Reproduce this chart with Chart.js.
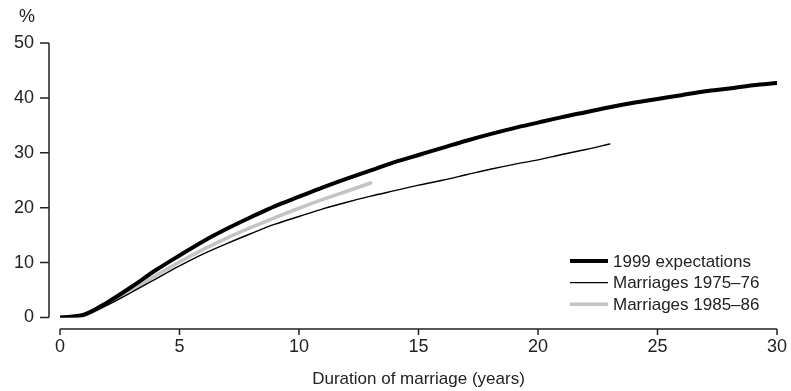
<!DOCTYPE html>
<html>
<head>
<meta charset="utf-8">
<script src="https://cdn.jsdelivr.net/npm/chart.js@4"></script>
<style>
  html, body { margin: 0; padding: 0; background: #fff; }
  #wrap { width: 791px; height: 391px; }
</style>
</head>
<body>
<div id="wrap"><canvas id="myChart" width="791" height="391"></canvas></div>
<script>
// data
const years = [0, 1, 2, 3, 4, 5, 6, 7, 8, 9, 10, 11, 12, 13, 14, 15, 16, 17, 18, 19, 20,
  21, 22, 23, 24, 25, 26, 27, 28, 29, 30];
const expect1999 = [0, 0.5, 2.8, 5.6, 8.6, 11.3, 13.9, 16.2, 18.3, 20.3, 22.0, 23.7, 25.3, 26.8,
  28.3, 29.6, 30.9, 32.2, 33.4, 34.5, 35.5, 36.5, 37.4, 38.3, 39.1, 39.8, 40.5, 41.2, 41.7, 42.3, 42.7];
const marr7576 = [0, 0.4, 2.3, 4.6, 7.0, 9.4, 11.6, 13.5, 15.3, 17.0, 18.4, 19.8, 21.0, 22.1,
  23.1, 24.1, 25.0, 26.0, 27.0, 27.9, 28.7, 29.7, 30.6, 31.6];
const marr8586 = [0, 0.4, 2.5, 5.0, 7.6, 10.1, 12.4, 14.5, 16.4, 18.2, 19.9, 21.5, 23.0, 24.5];
const seriesLabels = ["1999 expectations", "Marriages 1975\u201376", "Marriages 1985\u201386"];
const xTicks = [0, 5, 10, 15, 20, 25, 30];
const yTicks = [0, 10, 20, 30, 40, 50];

const FONT = "'Liberation Sans', Arial, sans-serif";

function toPoints(vals) {
  return vals.map((v, i) => ({ x: years[i], y: v }));
}

// axis lines sit a little away from the plot, like the original
const axisLines = {
  id: 'axisLines',
  afterDraw(chart) {
    const { ctx, scales: { x, y } } = chart;
    const yx = x.getPixelForValue(0) - 11;
    const xy = y.getPixelForValue(0) + 11.5;
    ctx.save();
    ctx.strokeStyle = '#222';
    ctx.lineWidth = 1.5;
    ctx.beginPath();
    ctx.moveTo(yx, y.getPixelForValue(50));
    ctx.lineTo(yx, y.getPixelForValue(0));
    yTicks.forEach(t => {
      const p = y.getPixelForValue(t);
      ctx.moveTo(yx, p);
      ctx.lineTo(yx - 9, p);
    });
    ctx.moveTo(x.getPixelForValue(0), xy);
    ctx.lineTo(x.getPixelForValue(30), xy);
    xTicks.forEach(t => {
      const p = x.getPixelForValue(t);
      ctx.moveTo(p, xy);
      ctx.lineTo(p, xy + 6);
    });
    ctx.stroke();

    // unit label
    ctx.fillStyle = '#222';
    ctx.font = '18px ' + FONT;
    ctx.textAlign = 'center';
    ctx.textBaseline = 'middle';
    ctx.fillText('%', 27, 17);

    // legend
    ctx.font = '17px ' + FONT;
    ctx.textAlign = 'left';
    chart.data.datasets.forEach((ds, i) => {
      const cy = 261 + i * 21.6;
      ctx.strokeStyle = ds.borderColor;
      ctx.lineWidth = ds.borderWidth;
      ctx.beginPath();
      ctx.moveTo(570, cy);
      ctx.lineTo(608, cy);
      ctx.stroke();
      ctx.fillStyle = '#222';
      ctx.fillText(ds.label, 613, cy + 1);
    });
    ctx.restore();
  }
};

const config = {
  type: 'line',
  data: {
    datasets: [
      { label: seriesLabels[0], data: toPoints(expect1999), borderColor: '#000', borderWidth: 4 },
      { label: seriesLabels[1], data: toPoints(marr7576), borderColor: '#000', borderWidth: 1.4 },
      { label: seriesLabels[2], data: toPoints(marr8586), borderColor: '#c4c4c4', borderWidth: 3.5 }
    ]
  },
  options: {
    responsive: false,
    animation: false,
    elements: {
      point: { radius: 0 },
      line: { cubicInterpolationMode: 'monotone', borderCapStyle: 'round' }
    },
    layout: { padding: { top: 43, right: 14, left: 0, bottom: 0 } },
    plugins: { legend: { display: false }, tooltip: { enabled: false } },
    scales: {
      x: {
        type: 'linear',
        min: 0, max: 30,
        grid: { display: false, drawTicks: false },
        border: { display: false },
        afterFit(scale) {
          scale.height = 73.5;
          scale.paddingLeft = 0;
          scale.paddingRight = 0;
        },
        afterBuildTicks(scale) { scale.ticks = xTicks.map(v => ({ value: v })); },
        ticks: { color: '#222', font: { family: FONT, size: 18 }, padding: 19, maxRotation: 0 },
        title: {
          display: true, text: 'Duration of marriage (years)', color: '#222',
          font: { family: FONT, size: 17 }, padding: { top: 0, bottom: 1.5 }
        }
      },
      y: {
        min: 0, max: 50,
        grid: { display: false, drawTicks: false },
        border: { display: false },
        afterFit(scale) {
          scale.width = 60;
          scale.paddingTop = 0;
          scale.paddingBottom = 0;
        },
        afterBuildTicks(scale) { scale.ticks = yTicks.map(v => ({ value: v })); },
        ticks: { color: '#222', font: { family: FONT, size: 18 }, padding: 26 }
      }
    }
  },
  plugins: [axisLines]
};

const context = document.getElementById('myChart').getContext('2d');
const chart = new Chart(context, config);
</script>
</body>
</html>
